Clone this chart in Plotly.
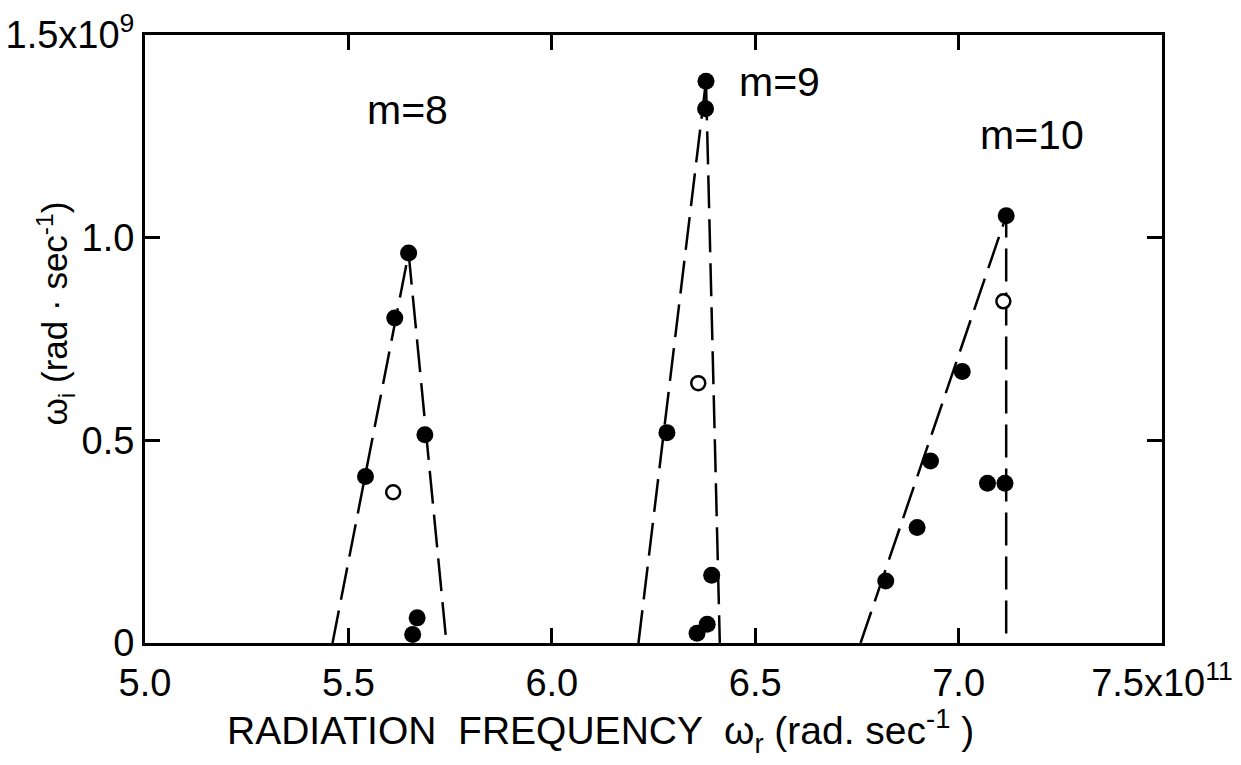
import plotly.graph_objects as go

# ---- data ----
m8_filled_x = [5.648, 5.614, 5.688, 5.542, 5.669, 5.658]
m8_filled_y = [0.962, 0.802, 0.514, 0.411, 0.062, 0.021]
m8_open_x = [5.610]
m8_open_y = [0.372]
m8_line_x = [5.461, 5.648, 5.741]
m8_line_y = [0.0, 0.962, 0.0]

m9_filled_x = [6.379, 6.378, 6.283, 6.393, 6.382, 6.357]
m9_filled_y = [1.386, 1.318, 0.519, 0.167, 0.046, 0.024]
m9_open_x = [6.360]
m9_open_y = [0.641]
m9_line_x = [6.213, 6.379, 6.413]
m9_line_y = [0.0, 1.386, 0.0]

m10_filled_x = [7.117, 7.009, 6.931, 7.071, 7.114, 6.898, 6.821]
m10_filled_y = [1.054, 0.670, 0.449, 0.394, 0.394, 0.285, 0.153]
m10_open_x = [7.110]
m10_open_y = [0.843]
m10_line_x = [6.759, 7.117, 7.117]
m10_line_y = [0.0, 1.054, 0.0]

mode_labels = ["m=8", "m=9", "m=10"]
mode_label_x = [5.645, 6.56, 7.18]
mode_label_y = [1.316, 1.385, 1.254]

x_tick_vals = [5.0, 5.5, 6.0, 6.5, 7.0, 7.5]
x_tick_text = ["5.0", "5.5", "6.0", "6.5", "7.0", "7.5x10<sup>11</sup>"]
y_tick_vals = [0.0, 0.5, 1.0, 1.5]
y_tick_text = ["0", "0.5", "1.0", "1.5x10<sup>9</sup>"]

FONT = "Liberation Sans, Arial, sans-serif"

fig = go.Figure()

for lx, ly in [(m8_line_x, m8_line_y), (m9_line_x, m9_line_y), (m10_line_x, m10_line_y)]:
    fig.add_trace(go.Scatter(x=lx, y=ly, mode="lines",
                             line=dict(color="black", width=2.5, dash="33px,11px"),
                             showlegend=False, hoverinfo="skip"))

for fx, fy in [(m8_filled_x, m8_filled_y), (m9_filled_x, m9_filled_y), (m10_filled_x, m10_filled_y)]:
    fig.add_trace(go.Scatter(x=fx, y=fy, mode="markers",
                             marker=dict(color="black", size=17, line=dict(width=0)),
                             showlegend=False))

for ox, oy in [(m8_open_x, m8_open_y), (m9_open_x, m9_open_y), (m10_open_x, m10_open_y)]:
    fig.add_trace(go.Scatter(x=ox, y=oy, mode="markers",
                             marker=dict(color="white", size=14, line=dict(color="black", width=2.5)),
                             showlegend=False))

for t, ax, ay in zip(mode_labels, mode_label_x, mode_label_y):
    fig.add_annotation(x=ax, y=ay, text=t, showarrow=False,
                       font=dict(family=FONT, size=41, color="black"))

fig.add_annotation(xref="paper", yref="paper", x=0.448, y=-0.145,
                   xanchor="center", yanchor="middle", showarrow=False,
                   text="RADIATION  FREQUENCY  ω<sub>r</sub> (rad. sec<sup>-1</sup> )",
                   font=dict(family=FONT, size=39, color="black"))

fig.add_annotation(xref="paper", yref="paper", x=-0.0885, y=0.542,
                   xanchor="center", yanchor="middle", showarrow=False, textangle=-90,
                   text="ω<sub>i</sub> (rad · sec<sup>-1</sup>)",
                   font=dict(family=FONT, size=35, color="black"))

fig.update_xaxes(range=[5.0, 7.5], tickvals=x_tick_vals, ticktext=x_tick_text,
                 ticks="inside", ticklen=15, tickwidth=2.5, tickcolor="black",
                 showline=True, linewidth=3, linecolor="black", mirror="ticks",
                 showgrid=False, zeroline=False, automargin=False,
                 ticklabelstandoff=4,
                 tickfont=dict(family=FONT, size=38, color="black"))
fig.update_yaxes(range=[0, 1.5], tickvals=y_tick_vals, ticktext=y_tick_text,
                 ticks="inside", ticklen=15, tickwidth=2.5, tickcolor="black",
                 showline=True, linewidth=3, linecolor="black", mirror="ticks",
                 showgrid=False, zeroline=False, automargin=False,
                 tickfont=dict(family=FONT, size=38, color="black"))

fig.update_layout(width=1241, height=765,
                  margin=dict(l=145, r=79, t=35, b=122),
                  paper_bgcolor="white", plot_bgcolor="white",
                  showlegend=False)

fig.write_html("out.html")
